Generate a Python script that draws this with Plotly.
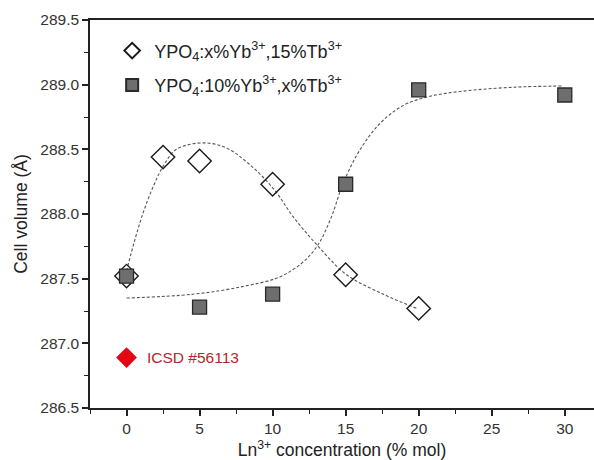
import plotly.graph_objects as go

# Measured data
x_yb = [0, 2.5, 5, 10, 15, 20]
v_yb = [287.52, 288.44, 288.41, 288.23, 287.53, 287.27]

x_tb = [0, 5, 10, 15, 20, 30]
v_tb = [287.52, 287.28, 287.38, 288.23, 288.96, 288.92]

x_icsd = [0]
v_icsd = [286.89]

# Fitted guide curves
fit1_x = [0, 0.57, 1.14, 1.82, 2.51, 3.42, 5.25, 6.85, 8.45, 10.1, 11.4, 13.12, 15.07, 17.58, 19.86]
fit1_y = [287.56, 287.80, 288.01, 288.21, 288.37, 288.50, 288.55, 288.51, 288.38, 288.19, 287.98, 287.75, 287.53, 287.38, 287.27]

fit2_x = [0, 4.56, 7.99, 10.4, 12.0, 13.1, 14.0, 14.84, 16.0, 17.35, 18.95, 20.77, 23.05, 26.48, 29.9]
fit2_y = [287.35, 287.38, 287.44, 287.51, 287.62, 287.76, 287.97, 288.24, 288.50, 288.70, 288.84, 288.91, 288.95, 288.98, 288.99]

fig = go.Figure()

fig.add_trace(go.Scatter(x=fit1_x, y=fit1_y, mode="lines", showlegend=False,
                         line=dict(color="#555555", width=1.1, dash="3px,2px", shape="spline", smoothing=1.0),
                         hoverinfo="skip"))
fig.add_trace(go.Scatter(x=fit2_x, y=fit2_y, mode="lines", showlegend=False,
                         line=dict(color="#555555", width=1.1, dash="3px,2px", shape="spline", smoothing=1.0),
                         hoverinfo="skip"))

fig.add_trace(go.Scatter(x=x_yb, y=v_yb, mode="markers", legendgroup="a", legendrank=1,
                         name="YPO<sub>4</sub>:x%Yb<sup>3+</sup>,15%Tb<sup>3+</sup>",
                         marker=dict(symbol="diamond-open", size=18, color="#1a1a1a",
                                     line=dict(color="#1a1a1a", width=1.4))))
fig.add_trace(go.Scatter(x=x_tb, y=v_tb, mode="markers", legendgroup="b", legendrank=2,
                         name="YPO<sub>4</sub>:10%Yb<sup>3+</sup>,x%Tb<sup>3+</sup>",
                         marker=dict(symbol="square", size=14, color="#6e6e6e",
                                     line=dict(color="#2a2a2a", width=1.3))))
fig.add_trace(go.Scatter(x=x_icsd, y=v_icsd, mode="markers", showlegend=False,
                         marker=dict(symbol="diamond", size=16, color="#e30613",
                                     line=dict(width=0))))

fig.add_annotation(x=1.25, y=v_icsd[0], text="ICSD #56113", showarrow=False,
                   xanchor="left", yanchor="middle",
                   font=dict(family="Liberation Sans, Arial", size=15.5, color="#b5262b"))

axis_font = dict(family="Liberation Sans, Arial", size=15.5, color="#333333")
title_font = dict(family="Liberation Sans, Arial", size=17.5, color="#222222")

fig.update_layout(
    width=594, height=460,
    margin=dict(l=90, r=0, t=20, b=52),
    paper_bgcolor="white", plot_bgcolor="white",
    font=dict(family="Liberation Sans, Arial", color="#222222"),
    legend=dict(x=0.04, y=0.968, xanchor="left", yanchor="top",
                traceorder="grouped", itemwidth=34,
                font=dict(family="Liberation Sans, Arial", size=18, color="#222222"),
                bgcolor="rgba(0,0,0,0)", itemsizing="constant", tracegroupgap=8),
    xaxis=dict(range=[-2.5, 32.0], tickvals=[0, 5, 10, 15, 20, 25, 30],
               ticks="outside", ticklen=6, tickwidth=1.5, tickcolor="#222222",
               minor=dict(dtick=2.5, tick0=0, ticks="outside", ticklen=4, tickwidth=1.3, tickcolor="#222222"),
               showline=True, linecolor="#222222", linewidth=1.5, mirror=True,
               showgrid=False, zeroline=False, tickfont=axis_font,
               title=dict(text="Ln<sup>3+</sup> concentration (% mol)", standoff=8, font=title_font)),
    yaxis=dict(range=[286.5, 289.5], dtick=0.5, tick0=286.5, tickformat=".1f",
               ticks="outside", ticklen=6, tickwidth=1.5, tickcolor="#222222",
               minor=dict(dtick=0.25, ticks="outside", ticklen=4, tickwidth=1.3, tickcolor="#222222"),
               showline=True, linecolor="#222222", linewidth=1.5,
               showgrid=False, zeroline=False, tickfont=axis_font,
               title=dict(text="Cell volume (Å)", standoff=8, font=title_font)),
)

fig.write_html("out.html")
